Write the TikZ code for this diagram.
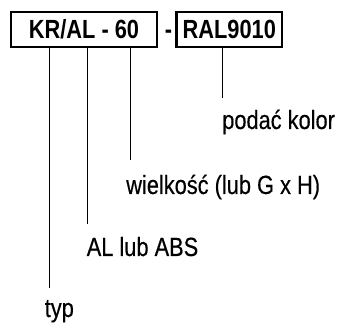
\documentclass[tikz,border=0pt]{standalone}
\usepackage{fontspec}
\setmainfont{Liberation Sans}[FakeStretch=0.83, UprightFeatures={FakeBold=0.4}]
\usepackage{tikz}
\usetikzlibrary{positioning,calc}

\begin{document}
\begin{tikzpicture}[x=0.75pt,y=-0.75pt]
\useasboundingbox (0,0) rectangle (337,324);
\tikzstyle{code} = [draw, shape=rectangle, minimum height=26pt, inner sep=0pt, line width=1.7pt, font=\fontsize{19.7}{22}\selectfont\bfseries]
\tikzstyle{sep} = [anchor=base, inner sep=0pt, font=\fontsize{19.7}{22}\selectfont\bfseries]
\tikzstyle{label} = [anchor=base west, inner sep=0pt, font=\fontsize{19.7}{22}\selectfont]
%Creating Blocks and Labels
\node at (84,29.4) [code, minimum width=109.5pt] (model) {KR/AL - 60};
\node at (168.5,38.5) [sep] (dash) {-};
\node at (229.3,29.4) [code, minimum width=79pt] (colour) {RAL9010};
\node at (222,129) [label] (kolor) {podać kolor};
\node at (126,194) [label] (size) {wielkość (lub G x H)};
\node at (86.5,256) [label] (mat) {AL lub ABS};
\node at (44.5,317) [label] (typ) {typ};
%Line ends
\coordinate (kolorend) at (222.3,98);
\coordinate (sizeend) at (130,160);
\coordinate (matend) at (87.3,224);
\coordinate (typend) at (49.3,288);
\begin{scope}[line width = 0.7pt]
\draw (typend |- model.south) -- (typend);
\draw (matend |- model.south) -- (matend);
\draw (sizeend |- model.south) -- (sizeend);
\draw (kolorend |- colour.south) -- (kolorend);
\end{scope}

\end{tikzpicture}
\end{document}
